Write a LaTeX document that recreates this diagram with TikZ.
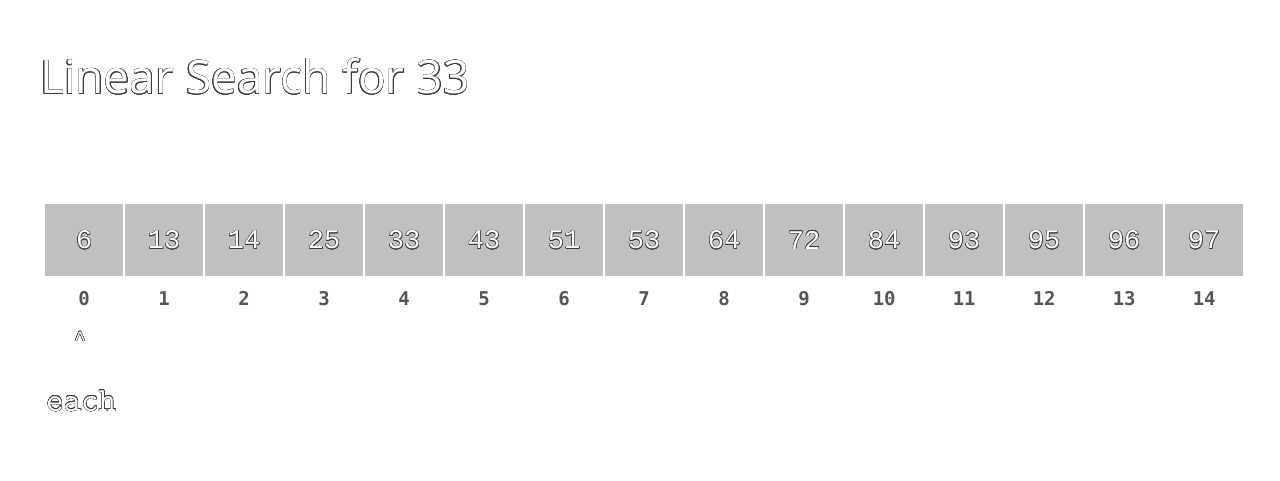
\documentclass[tikz,border=0pt]{standalone}
\usepackage{fontspec}
\setmainfont{Open Sans}
\newfontfamily\cellfont{Liberation Mono}
\newfontfamily\idxfont{DejaVu Sans Mono}
\usepackage{contour}
\contourlength{0.45pt}
\usetikzlibrary{matrix, positioning}
\definecolor{cellgray}{HTML}{C0C0C0}
\definecolor{idxgray}{HTML}{555555}
\definecolor{edgegray}{HTML}{3C3C3C}
\newcommand{\outl}[1]{\sbox0{#1}\hbox to \wd0{\hss\contour{edgegray}{#1}\hss}}
\tikzset{%
array row/.style={
    matrix of nodes,
    inner sep=0pt,
    column sep=2pt,
    nodes={rectangle, fill=cellgray,
      minimum height=72pt, minimum width=78pt,
      anchor=center,
      inner sep=0pt, outer sep=0pt,
      text=white, font=\cellfont\fontsize{27}{27}\selectfont
    }
},
index label/.style={inner sep=0pt, anchor=base, text=idxgray,
    font=\idxfont\bfseries\fontsize{19}{19}\selectfont},
outline text/.style={inner sep=0pt, anchor=base west, text=white},
}

\begin{document}
\begin{tikzpicture}[x=1pt, y=1pt]
\useasboundingbox (0,0) rectangle (1280,480);

\node[outline text, font=\fontsize{46}{46}\selectfont] (title) at (40,386) {\outl{Linear Search for 33}};

\matrix[array row, anchor=north west] (arr) at (45,276)
{
  \outl{6} & \outl{13} & \outl{14} & \outl{25} & \outl{33} & \outl{43} & \outl{51} & \outl{53} & \outl{64} & \outl{72} & \outl{84} & \outl{93} & \outl{95} & \outl{96} & \outl{97} \\
};
% indices under the cells
\foreach \i [count=\c] in {0,...,14}
  \node[index label] (idx-\i) at (arr-1-\c.south |- 0,175) {\i};

\node[outline text, anchor=north, font=\cellfont\fontsize{20}{20}\selectfont] (ptr) at (80,148) {\outl{\textasciicircum}};
\node[outline text, font=\ttfamily\fontsize{34}{34}\selectfont] (each) at (46,69) {\outl{each}};
\end{tikzpicture}
\end{document}
